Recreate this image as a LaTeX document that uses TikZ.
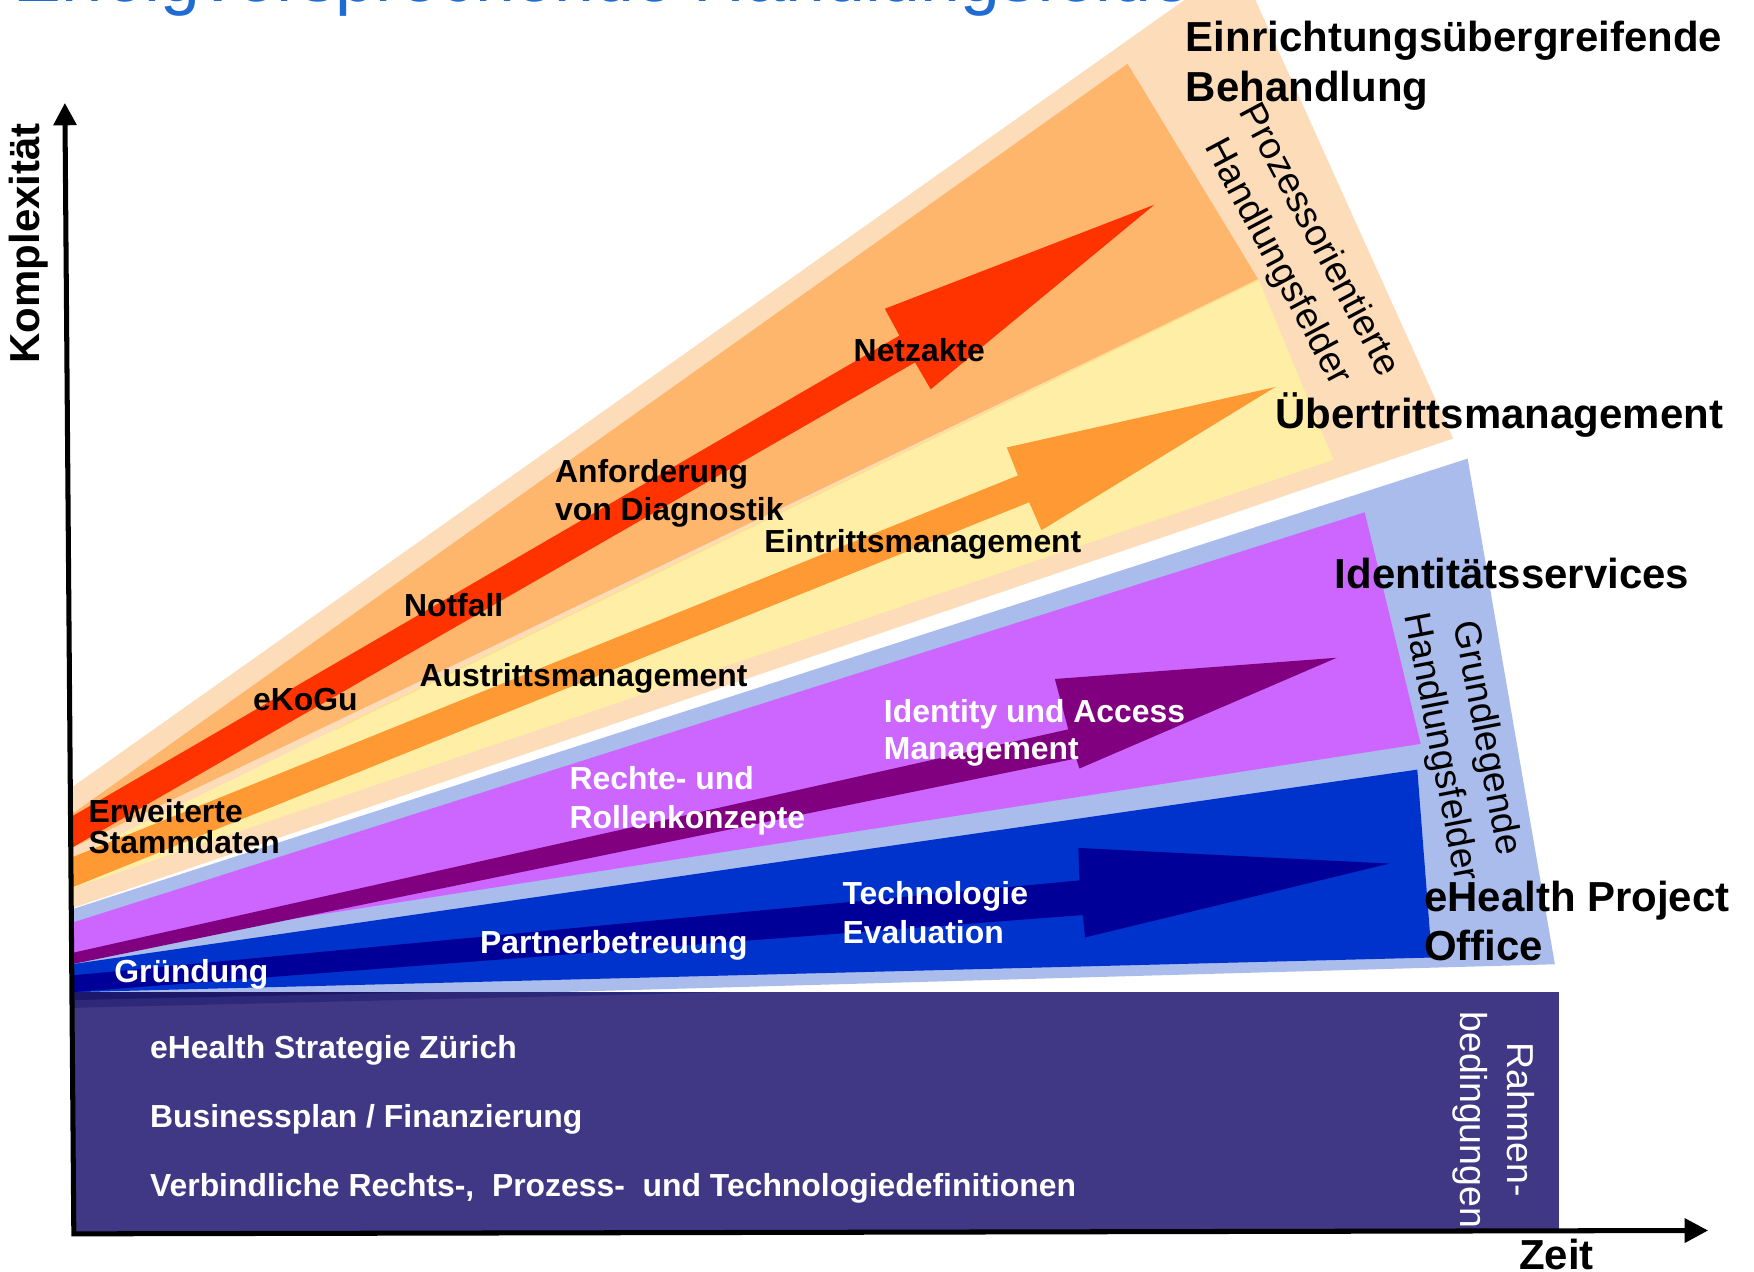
\documentclass[tikz,border=0pt]{standalone}
\usepackage{fontspec}
\setmainfont{Liberation Sans}
\usetikzlibrary{arrows.meta}

\definecolor{peach}{HTML}{FDDCB9}
\definecolor{lorange}{HTML}{FEB56C}
\definecolor{lyellow}{HTML}{FFEFA6}
\definecolor{yedge}{HTML}{FFE08A}
\definecolor{redarrow}{HTML}{FF3300}
\definecolor{orarrow}{HTML}{FF9933}
\definecolor{lblue}{HTML}{A9BCEB}
\definecolor{magent}{HTML}{CC66FF}
\definecolor{dpurple}{HTML}{800080}
\definecolor{bblue}{HTML}{0033CC}
\definecolor{navyc}{HTML}{000099}
\definecolor{slate}{HTML}{403885}
\definecolor{titleblue}{HTML}{1E6CD3}
\definecolor{wedgeA}{HTML}{1C186A}
\definecolor{wedgeB}{HTML}{2E2879}

\begin{document}
\begin{tikzpicture}[x=1pt,y=-1pt,
  lbl/.style={font=\fontsize{28.5}{34.2}\selectfont\bfseries, inner sep=0pt, anchor=base west},
  big/.style={font=\fontsize{37.5}{45}\selectfont\bfseries, inner sep=0pt, anchor=base west},
  rottext/.style={font=\fontsize{33.5}{42}\selectfont, inner sep=0pt, align=center, anchor=center},
  axisline/.style={line width=4.5pt, {Triangle[length=20pt,width=20pt]}-{Triangle[length=21pt,width=21pt]}},
]
\useasboundingbox (0,0) rectangle (1568,1137);
\fill[white] (0,0) rectangle (1568,1137);

% title (mostly cut off at the top)
\node[anchor=base west, inner sep=0pt, font=\fontsize{64}{76}\selectfont, text=titleblue] (title) at (12,1) {Erfolgversprechende Handlungsfelder};

% process-oriented group
\fill[peach] (64,704) -- (1107,-34) -- (1299,392) -- (64,812) -- cycle;
\fill[lorange] (64,728) -- (1008,57) -- (1125,250) -- (64,758) -- cycle;
\fill[lyellow] (64,767) -- (1125,250) -- (1192,411) -- (64,794) -- cycle;
\draw[yedge, line width=1.2pt] (300,652) -- (1125,250);
\fill[redarrow] (64,730) -- (804,300) -- (791,276) -- (1032,183) -- (832,348) -- (818,324) -- (64,758) -- cycle;
\fill[orarrow] (64,766.5) -- (910,425) -- (900,400) -- (1140,346) -- (931,474) -- (920,449) -- (64,793.5) -- cycle;

% basic group
\fill[lblue] (64,813) -- (1312,410) -- (1390,862) -- (64,899) -- cycle;
\fill[magent] (64,825) -- (1220,458) -- (1270,665) -- (64,852) -- cycle;
\fill[bblue] (64,862) -- (1267,688) -- (1280,856) -- (64,887) -- cycle;
\fill[dpurple] (64,852) -- (955,652) -- (943,607) -- (1195,588) -- (965,687) -- (962,678) -- (64,862) -- cycle;
\fill[navyc] (64,872) -- (965,787) -- (964,758) -- (1242,772) -- (970,838) -- (968,818) -- (64,887) -- cycle;

% framework box
\fill[slate] (64,887) rectangle (1394,1101);
\fill[wedgeB] (64,887) -- (650,887) -- (64,901) -- cycle;
\fill[wedgeA] (64,887) -- (380,887) -- (64,894) -- cycle;

% axes
\coordinate (ytip) at (58,92);
\coordinate (origin) at (66,1103);
\coordinate (xtip) at (1527,1100);
\draw[axisline] (ytip) -- (origin) -- (xtip);
\node[rotate=90, font=\fontsize{37.5}{45}\selectfont\bfseries, inner sep=0pt] (komplex) at (26,217.5) {Komplexität};
\node[anchor=base, font=\fontsize{37.5}{45}\selectfont\bfseries, inner sep=0pt] (zeit) at (1391.5,1135) {Zeit};

% labels, process group
\node[lbl] (netzakte) at (763,323) {Netzakte};
\node[lbl] (anford1) at (496,431) {Anforderung};
\node[lbl] (anford2) at (496,465) {von Diagnostik};
\node[lbl] (eintritt) at (683,494) {Eintrittsmanagement};
\node[lbl] (notfall) at (361,551) {Notfall};
\node[lbl] (austritt) at (375,614) {Austrittsmanagement};
\node[lbl] (ekogu) at (226,635) {eKoGu};
\node[lbl] (erw1) at (79,735) {Erweiterte};
\node[lbl] (erw2) at (79,763) {Stammdaten};

% labels, basic group
\node[lbl, text=white] (iam1) at (790,646) {Identity und Access};
\node[lbl, text=white] (iam2) at (790,679) {Management};
\node[lbl, text=white] (rechte1) at (509,706) {Rechte- und};
\node[lbl, text=white] (rechte2) at (509,741) {Rollenkonzepte};
\node[lbl, text=white] (tech1) at (753,809) {Technologie};
\node[lbl, text=white] (tech2) at (753,843) {Evaluation};
\node[lbl, text=white] (partner) at (429,852) {Partnerbetreuung};
\node[lbl, text=white] (gruend) at (102,878) {Gründung};

% framework texts
\node[lbl, text=white] (strat) at (134,946) {eHealth Strategie Zürich};
\node[lbl, text=white] (bplan) at (134,1008) {Businessplan / Finanzierung};
\node[lbl, text=white] (verb) at (134,1070) {Verbindliche Rechts-,~ Prozess-~ und Technologiedefinitionen};

% big labels
\node[big] (einr1) at (1060,46) {Einrichtungsübergreifende};
\node[big] (einr2) at (1060,91) {Behandlung};
\node[big] (uebertritt) at (1140,383) {Übertrittsmanagement};
\node[big] (ident) at (1193,526) {Identitätsservices};
\node[big] (ehpo1) at (1273,815) {eHealth Project};
\node[big] (ehpo2) at (1273,859) {Office};

% rotated group labels
\node[rottext, rotate=-62] (prozess) at (1160,225) {Prozessorientierte\\Handlungsfelder};
\node[rottext, rotate=-79] (grund) at (1307.5,664) {Grundlegende\\Handlungsfelder};
\node[rottext, rotate=-90, text=white] (rahmen) at (1335.5,1001) {Rahmen-\\bedingungen};
\end{tikzpicture}
\end{document}
